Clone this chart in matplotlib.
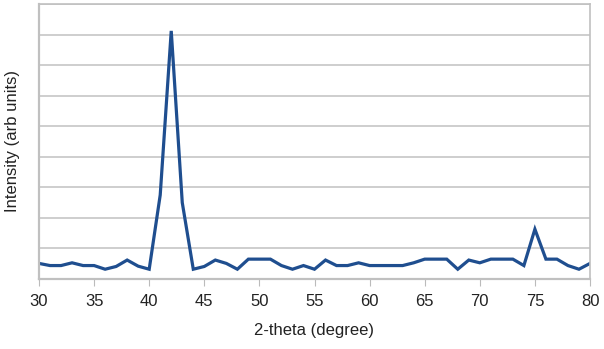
import matplotlib
matplotlib.use("Agg")
import matplotlib.pyplot as plt

# 2-theta (degree), one point per degree
two_theta = list(range(30, 81))
intensity = [
    0.51, 0.44, 0.44, 0.53, 0.44, 0.44, 0.32, 0.41, 0.62, 0.42,  # 30-39
    0.32, 2.75, 8.12, 2.50, 0.32, 0.41, 0.62, 0.51, 0.32, 0.65,  # 40-49
    0.65, 0.65, 0.44, 0.32, 0.44, 0.32, 0.62, 0.44, 0.44, 0.53,  # 50-59
    0.44, 0.44, 0.44, 0.44, 0.53, 0.65, 0.65, 0.65, 0.32, 0.62,  # 60-69
    0.53, 0.65, 0.65, 0.65, 0.44, 1.63, 0.65, 0.65, 0.44, 0.32,  # 70-79
    0.51,                                                        # 80
]
x_ticks = [30, 35, 40, 45, 50, 55, 60, 65, 70, 75, 80]

plt.rcParams['font.family'] = ['Liberation Sans', 'DejaVu Sans']

fig = plt.figure(figsize=(6.04, 3.49), dpi=100)
ax = fig.add_axes([39 / 604, 1 - 279 / 349, 551 / 604, 275 / 349])

ax.plot(two_theta, intensity, color='#1f4e8f', linewidth=2.3, solid_joinstyle='miter')

ax.set_xlim(30, 80)
ax.set_ylim(0, 9)
ax.set_xticks(x_ticks)
ax.set_yticks(range(0, 10))
ax.set_yticklabels([])
ax.tick_params(axis='y', length=0)
ax.tick_params(axis='x', length=5, labelsize=12, pad=6, colors='#222222')
ax.tick_params(axis='x', color='#bbbbbb')
ax.grid(axis='y', color='#c6c6c6', linewidth=1.2)
ax.set_axisbelow(True)
for s in ax.spines.values():
    s.set_color('#c0c0c0')
    s.set_linewidth(1.2)
ax.spines['left'].set_linewidth(1.6)
ax.spines['bottom'].set_linewidth(1.6)

ax.set_xlabel("2-theta (degree)", fontsize=12, labelpad=10, color='#222222')
ax.set_ylabel("Intensity (arb units)", fontsize=12, labelpad=10, color='#222222')

fig.savefig("out.png", dpi=100)
